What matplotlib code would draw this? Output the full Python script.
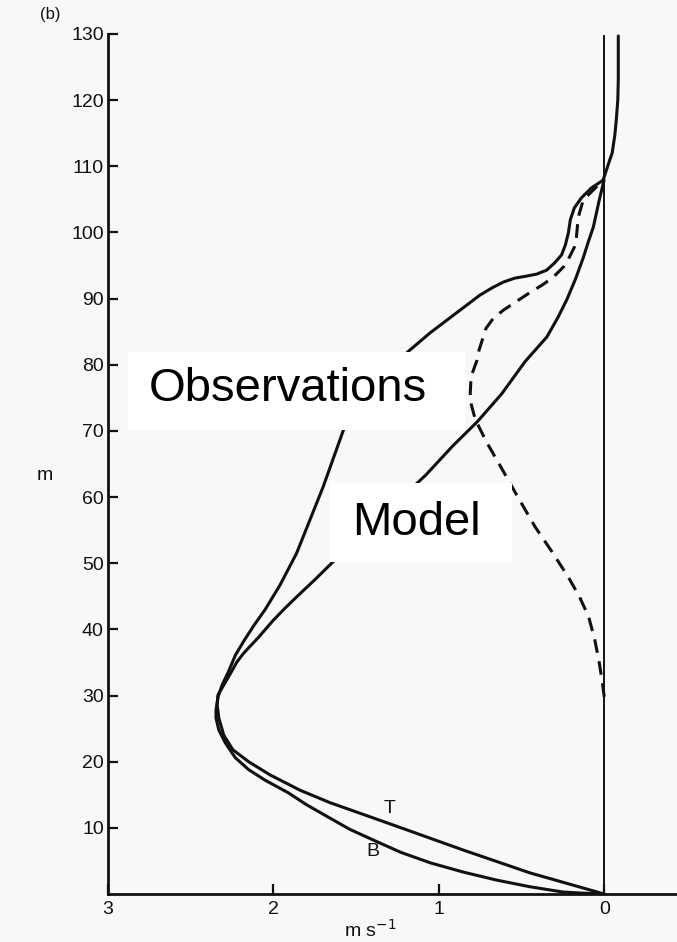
import numpy as np
import matplotlib
matplotlib.use("Agg")
import matplotlib.pyplot as plt
from matplotlib.patches import Rectangle

plt.rcParams['font.family'] = ['Liberation Sans', 'DejaVu Sans']

# wind speed (m s-1) and height (m)
# curve B at the bottom, outer curve above the nose
b_speed = [0.0, 0.145, 0.25, 0.45, 0.65, 0.85, 1.05, 1.23, 1.40, 1.54, 1.66, 1.80,
           1.91, 2.05, 2.15, 2.23, 2.29, 2.33, 2.347, 2.347, 2.335, 2.31, 2.27, 2.23,
           2.175, 2.115, 2.05, 1.96, 1.86, 1.78, 1.70, 1.63, 1.57, 1.385, 1.19, 1.054,
           0.848, 0.753, 0.68, 0.61, 0.54, 0.47, 0.409, 0.348, 0.300, 0.258, 0.235,
           0.217, 0.205, 0.181, 0.139, 0.079, 0.007, -0.013, -0.03, -0.048, -0.064,
           -0.073, -0.082, -0.085, -0.085]
b_height = [0.0, 0.15, 0.3, 1.1, 2.1, 3.3, 4.7, 6.3, 8.2, 9.8, 11.5, 13.5,
            15.3, 17.2, 18.8, 20.6, 22.8, 24.8, 26.6, 27.8, 29.8, 31.6, 33.7, 36.1,
            38.4, 40.7, 43.0, 46.7, 51.5, 56.5, 61.5, 66.4, 70.6, 75.4, 81.9, 84.8,
            88.7, 90.5, 91.6, 92.5, 93.1, 93.4, 93.7, 94.3, 95.4, 96.6, 98.1,
            99.9, 101.9, 103.7, 105.2, 106.7, 107.9, 109.4, 110.7, 112.0, 114.7,
            117.0, 120.0, 123.0, 129.7]

# curve T at the bottom, inner curve above the nose
t_speed = [0.0, 0.45, 0.853, 1.295, 1.657, 1.84, 2.02, 2.15, 2.245, 2.30, 2.33,
           2.34, 2.335, 2.30, 2.265, 2.22, 2.18, 2.09, 2.0, 1.93, 1.86, 1.75, 1.64,
           1.08, 0.917, 0.767, 0.62, 0.478, 0.347, 0.281, 0.227, 0.173, 0.125,
           0.096, 0.066, 0.03, 0.001]
t_height = [0.0, 3.2, 6.65, 10.6, 13.8, 15.7, 18.0, 20.0, 21.8, 24.0, 26.6,
            28.6, 30.1, 31.6, 33.1, 35.1, 36.4, 38.8, 41.4, 43.2, 44.9, 47.5, 50.2,
            63.3, 67.7, 71.4, 75.6, 80.5, 84.2, 87.1, 89.8, 93.0, 96.3,
            98.6, 100.8, 104.9, 107.9]

# dashed curve
model_speed = [0.0, 0.013, 0.033, 0.057, 0.094, 0.149, 0.217, 0.315, 0.418, 0.522,
               0.626, 0.711, 0.779, 0.803, 0.81, 0.805, 0.769, 0.757, 0.715, 0.668,
               0.607, 0.529, 0.45, 0.372, 0.306, 0.246, 0.21, 0.18, 0.168, 0.157,
               0.127, 0.067, 0.007]
model_height = [29.8, 32.3, 35.4, 38.4, 41.9, 44.9, 47.9, 51.7, 55.5, 60.0,
                64.6, 68.3, 71.7, 73.9, 75.7, 78.2, 80.7, 82.2, 85.5, 87.1,
                88.3, 89.6, 90.9, 92.1, 93.3, 94.8, 96.3, 97.8, 99.3, 102.3,
                104.9, 106.4, 107.9]

yticks = [10, 20, 30, 40, 50, 60, 70, 80, 90, 100, 110, 120, 130]
xticks = [3, 2, 1, 0]

W, H = 677, 942
fig = plt.figure(figsize=(W / 100, H / 100), dpi=100, facecolor='#f8f8f8')
ax = fig.add_axes([108 / W, 1 - 894 / H, 1 - 108 / W, (894 - 34) / H])
ax.set_facecolor('none')

lw = 2.2
style = dict(color='#111111', lw=lw, solid_capstyle='round', solid_joinstyle='round')
ax.plot(b_speed, b_height, **style)
ax.plot(t_speed, t_height, **style)
ax.plot(model_speed, model_height, color='#111111', lw=lw, dashes=(4.5, 2.8),
        dash_joinstyle='round')
ax.plot([0, 0], [0, 129.7], color='#111111', lw=1.4)

ax.set_xlim(3, -0.44)
ax.set_ylim(0, 130)
for s in ['top', 'right']:
    ax.spines[s].set_visible(False)
for s in ['left', 'bottom']:
    ax.spines[s].set_linewidth(2.0)
    ax.spines[s].set_color('#111111')

ax.set_yticks(yticks)
ax.set_xticks(xticks)
ax.set_xticklabels([str(v) for v in xticks])
ax.tick_params(direction='in', length=7, width=1.6, color='#111111',
               labelsize=14, labelcolor='#111111')
ax.tick_params(axis='y', pad=3)
ax.tick_params(axis='x', pad=5)

ax.text(1.295, 12.9, 'T', fontsize=14, ha='center', va='center', color='#111111')
ax.text(1.40, 6.35, 'B', fontsize=14, ha='center', va='center', color='#111111')

fig.text(50 / W, 1 - 15 / H, '(b)', fontsize=12, ha='center', va='center', color='#111111')
fig.text(45 / W, 1 - 475 / H, 'm', fontsize=14, ha='center', va='center', color='#111111')
fig.text(370 / W, 1 - 930 / H, 'm s$^{-1}$', fontsize=14, ha='center', va='center',
         color='#111111')

# white label boxes
fig.patches.append(Rectangle((128 / W, 1 - 430 / H), (465 - 128) / W, (430 - 352) / H,
                             transform=fig.transFigure, facecolor='white',
                             edgecolor='none', zorder=5))
fig.patches.append(Rectangle((330 / W, 1 - 562 / H), (512 - 330) / W, (562 - 483) / H,
                             transform=fig.transFigure, facecolor='white',
                             edgecolor='none', zorder=5))
fig.text(288 / W, 1 - 389 / H, 'Observations', fontsize=34, ha='center', va='center',
         zorder=6)
fig.text(416 / W, 1 - 523 / H, 'Model', fontsize=34, ha='center', va='center', zorder=6)

fig.savefig('out.png', dpi=100, facecolor=fig.get_facecolor())
